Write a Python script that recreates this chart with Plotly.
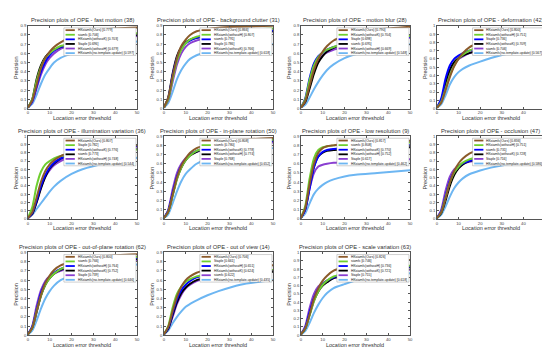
import plotly.graph_objects as go

W, H = 550, 347
THRESHOLDS = [0, 2, 4, 6, 8, 10, 12, 15, 20, 25, 35, 50]
X_TICKS = [0, 10, 20, 30, 40, 50]
RANK_COLORS = ["#8B5A2B", "#6FCF2F", "#0000FF", "#000000", "#8A3FD1", "#6DB6F2"]

TITLES = [
    "Precision plots of OPE - fast motion (38)",
    "Precision plots of OPE - background clutter (31)",
    "Precision plots of OPE - motion blur (28)",
    "Precision plots of OPE - deformation (42)",
    "Precision plots of OPE - illumination variation (36)",
    "Precision plots of OPE - in-plane rotation (50)",
    "Precision plots of OPE - low resolution (9)",
    "Precision plots of OPE - occlusion (47)",
    "Precision plots of OPE - out-of-plane rotation (62)",
    "Precision plots of OPE - out of view (14)",
    "Precision plots of OPE - scale variation (63)",
]
Y_MAX = [0.9, 0.9, 0.9, 1.0, 1.0, 0.9, 0.9, 1.0, 0.9, 0.9, 1.0]

OURS = "HKsiamfc(Ours)"
SF = "siamfc"
WH = "HKsiamfc(withoutH)"
WK = "HKsiamfc(withoutK)"
ST = "Staple"
NT = "HKsiamfc(no-template-update)"

fm_names = [OURS, SF, WK, ST, WH, NT]
fm_scores = [0.779, 0.706, 0.703, 0.696, 0.679, 0.597]
fm_prec = [
    [0.01, 0.09, 0.26, 0.44, 0.55, 0.62, 0.67, 0.72, 0.779, 0.82, 0.86, 0.88],
    [0.01, 0.10, 0.30, 0.45, 0.55, 0.60, 0.64, 0.68, 0.706, 0.74, 0.78, 0.82],
    [0.01, 0.08, 0.24, 0.40, 0.51, 0.58, 0.63, 0.67, 0.703, 0.73, 0.77, 0.81],
    [0.01, 0.10, 0.32, 0.47, 0.56, 0.61, 0.64, 0.67, 0.696, 0.72, 0.76, 0.80],
    [0.01, 0.07, 0.22, 0.37, 0.48, 0.55, 0.60, 0.65, 0.679, 0.71, 0.75, 0.79],
    [0.01, 0.05, 0.15, 0.27, 0.37, 0.44, 0.50, 0.55, 0.597, 0.63, 0.68, 0.73],
]

bc_names = [OURS, WH, SF, ST, WK, NT]
bc_scores = [0.866, 0.807, 0.791, 0.786, 0.766, 0.618]
bc_prec = [
    [0.01, 0.12, 0.35, 0.55, 0.68, 0.75, 0.80, 0.84, 0.866, 0.88, 0.89, 0.90],
    [0.01, 0.10, 0.32, 0.52, 0.64, 0.71, 0.75, 0.78, 0.807, 0.83, 0.85, 0.87],
    [0.01, 0.11, 0.36, 0.55, 0.65, 0.71, 0.74, 0.77, 0.791, 0.81, 0.83, 0.85],
    [0.01, 0.12, 0.38, 0.57, 0.67, 0.72, 0.75, 0.77, 0.786, 0.80, 0.82, 0.84],
    [0.01, 0.09, 0.29, 0.48, 0.60, 0.67, 0.71, 0.74, 0.766, 0.79, 0.82, 0.84],
    [0.01, 0.06, 0.18, 0.32, 0.42, 0.49, 0.54, 0.58, 0.618, 0.64, 0.67, 0.70],
]

mb_names = [OURS, WK, ST, SF, WH, NT]
mb_scores = [0.790, 0.704, 0.698, 0.695, 0.669, 0.548]
mb_prec = [
    [0.01, 0.08, 0.25, 0.42, 0.54, 0.62, 0.68, 0.74, 0.790, 0.83, 0.86, 0.89],
    [0.01, 0.10, 0.31, 0.47, 0.56, 0.61, 0.64, 0.67, 0.704, 0.73, 0.76, 0.79],
    [0.01, 0.11, 0.33, 0.49, 0.57, 0.61, 0.64, 0.67, 0.698, 0.72, 0.75, 0.78],
    [0.01, 0.07, 0.22, 0.38, 0.50, 0.57, 0.62, 0.66, 0.695, 0.72, 0.76, 0.80],
    [0.01, 0.08, 0.26, 0.42, 0.52, 0.58, 0.61, 0.64, 0.669, 0.70, 0.74, 0.77],
    [0.01, 0.04, 0.12, 0.21, 0.29, 0.36, 0.42, 0.48, 0.548, 0.59, 0.65, 0.70],
]

df_names = [OURS, WH, ST, WK, SF, NT]
df_scores = [0.800, 0.751, 0.736, 0.709, 0.706, 0.567]
df_prec = [
    [0.01, 0.07, 0.22, 0.38, 0.51, 0.60, 0.67, 0.74, 0.800, 0.85, 0.91, 0.95],
    [0.01, 0.08, 0.24, 0.40, 0.52, 0.60, 0.65, 0.70, 0.751, 0.79, 0.84, 0.87],
    [0.01, 0.12, 0.36, 0.52, 0.60, 0.64, 0.67, 0.70, 0.736, 0.76, 0.79, 0.81],
    [0.01, 0.10, 0.31, 0.47, 0.56, 0.61, 0.64, 0.67, 0.709, 0.74, 0.78, 0.82],
    [0.01, 0.09, 0.29, 0.45, 0.55, 0.60, 0.63, 0.67, 0.706, 0.74, 0.79, 0.84],
    [0.01, 0.05, 0.16, 0.29, 0.38, 0.44, 0.48, 0.52, 0.567, 0.61, 0.68, 0.76],
]

iv_names = [OURS, ST, WK, SF, WH, NT]
iv_scores = [0.807, 0.782, 0.776, 0.773, 0.748, 0.544]
iv_prec = [
    [0.01, 0.08, 0.26, 0.45, 0.58, 0.66, 0.71, 0.76, 0.807, 0.84, 0.87, 0.89],
    [0.01, 0.14, 0.40, 0.57, 0.66, 0.70, 0.73, 0.76, 0.782, 0.80, 0.82, 0.84],
    [0.01, 0.07, 0.22, 0.40, 0.53, 0.62, 0.68, 0.73, 0.776, 0.81, 0.85, 0.88],
    [0.01, 0.06, 0.20, 0.37, 0.51, 0.61, 0.67, 0.73, 0.773, 0.81, 0.85, 0.88],
    [0.01, 0.06, 0.21, 0.38, 0.51, 0.59, 0.65, 0.70, 0.748, 0.78, 0.82, 0.85],
    [0.01, 0.05, 0.12, 0.19, 0.26, 0.33, 0.39, 0.46, 0.544, 0.60, 0.67, 0.74],
]

ir_names = [OURS, SF, WK, WH, ST, NT]
ir_scores = [0.808, 0.780, 0.778, 0.774, 0.768, 0.652]
ir_prec = [
    [0.01, 0.08, 0.26, 0.45, 0.58, 0.66, 0.72, 0.77, 0.808, 0.83, 0.86, 0.88],
    [0.01, 0.08, 0.25, 0.43, 0.56, 0.64, 0.69, 0.74, 0.780, 0.81, 0.84, 0.86],
    [0.01, 0.09, 0.28, 0.46, 0.58, 0.65, 0.70, 0.74, 0.778, 0.80, 0.83, 0.85],
    [0.01, 0.08, 0.26, 0.44, 0.56, 0.64, 0.69, 0.73, 0.774, 0.80, 0.83, 0.85],
    [0.01, 0.10, 0.32, 0.50, 0.60, 0.66, 0.70, 0.73, 0.768, 0.79, 0.81, 0.83],
    [0.01, 0.05, 0.17, 0.30, 0.41, 0.49, 0.54, 0.60, 0.652, 0.69, 0.73, 0.77],
]

lr_names = [OURS, SF, WK, WH, ST, NT]
lr_scores = [0.817, 0.808, 0.770, 0.752, 0.617, 0.462]
lr_prec = [
    [0.01, 0.12, 0.38, 0.60, 0.72, 0.77, 0.79, 0.80, 0.817, 0.83, 0.84, 0.85],
    [0.01, 0.14, 0.44, 0.66, 0.75, 0.78, 0.79, 0.80, 0.808, 0.81, 0.82, 0.83],
    [0.01, 0.10, 0.33, 0.56, 0.68, 0.73, 0.75, 0.76, 0.770, 0.78, 0.79, 0.80],
    [0.01, 0.11, 0.36, 0.57, 0.68, 0.72, 0.74, 0.75, 0.752, 0.76, 0.77, 0.78],
    [0.01, 0.10, 0.33, 0.50, 0.57, 0.59, 0.60, 0.61, 0.617, 0.62, 0.63, 0.65],
    [0.01, 0.06, 0.17, 0.27, 0.33, 0.37, 0.40, 0.43, 0.462, 0.48, 0.50, 0.53],
]

oc_names = [OURS, WH, SF, WK, ST, NT]
oc_scores = [0.836, 0.751, 0.731, 0.728, 0.716, 0.586]
oc_prec = [
    [0.01, 0.08, 0.25, 0.44, 0.58, 0.67, 0.73, 0.79, 0.836, 0.87, 0.90, 0.92],
    [0.01, 0.08, 0.26, 0.44, 0.56, 0.63, 0.68, 0.72, 0.751, 0.78, 0.82, 0.85],
    [0.01, 0.09, 0.28, 0.46, 0.57, 0.63, 0.67, 0.70, 0.731, 0.76, 0.80, 0.83],
    [0.01, 0.07, 0.22, 0.40, 0.53, 0.61, 0.66, 0.70, 0.728, 0.76, 0.80, 0.83],
    [0.01, 0.11, 0.34, 0.51, 0.60, 0.64, 0.67, 0.69, 0.716, 0.74, 0.77, 0.79],
    [0.01, 0.05, 0.15, 0.27, 0.37, 0.44, 0.49, 0.54, 0.586, 0.62, 0.67, 0.72],
]

op_names = [OURS, SF, WH, WK, ST, NT]
op_scores = [0.800, 0.766, 0.764, 0.752, 0.739, 0.646]
op_prec = [
    [0.01, 0.08, 0.26, 0.44, 0.57, 0.65, 0.71, 0.76, 0.800, 0.83, 0.86, 0.88],
    [0.01, 0.08, 0.26, 0.43, 0.55, 0.62, 0.67, 0.72, 0.766, 0.79, 0.83, 0.85],
    [0.01, 0.09, 0.28, 0.46, 0.57, 0.64, 0.68, 0.72, 0.764, 0.79, 0.82, 0.84],
    [0.01, 0.08, 0.25, 0.43, 0.55, 0.62, 0.67, 0.71, 0.752, 0.78, 0.81, 0.83],
    [0.01, 0.10, 0.32, 0.49, 0.59, 0.64, 0.67, 0.70, 0.739, 0.76, 0.79, 0.81],
    [0.01, 0.05, 0.16, 0.29, 0.40, 0.48, 0.54, 0.60, 0.646, 0.68, 0.73, 0.77],
]

ov_names = [OURS, ST, WH, WK, SF, NT]
ov_scores = [0.706, 0.661, 0.651, 0.624, 0.622, 0.435]
ov_prec = [
    [0.01, 0.09, 0.26, 0.42, 0.53, 0.60, 0.64, 0.68, 0.706, 0.72, 0.74, 0.76],
    [0.01, 0.10, 0.30, 0.45, 0.53, 0.58, 0.61, 0.64, 0.661, 0.67, 0.69, 0.71],
    [0.01, 0.08, 0.24, 0.39, 0.49, 0.55, 0.59, 0.63, 0.651, 0.67, 0.69, 0.71],
    [0.01, 0.07, 0.22, 0.36, 0.46, 0.52, 0.56, 0.60, 0.624, 0.64, 0.67, 0.69],
    [0.01, 0.07, 0.20, 0.34, 0.44, 0.51, 0.55, 0.59, 0.622, 0.64, 0.67, 0.70],
    [0.01, 0.05, 0.13, 0.20, 0.26, 0.31, 0.34, 0.38, 0.435, 0.48, 0.55, 0.60],
]

sv_names = [OURS, SF, WH, WK, ST, NT]
sv_scores = [0.826, 0.746, 0.736, 0.721, 0.715, 0.618]
sv_prec = [
    [0.01, 0.08, 0.25, 0.44, 0.57, 0.66, 0.72, 0.78, 0.826, 0.86, 0.89, 0.91],
    [0.01, 0.08, 0.24, 0.41, 0.53, 0.61, 0.66, 0.71, 0.746, 0.78, 0.82, 0.84],
    [0.01, 0.09, 0.28, 0.45, 0.56, 0.62, 0.66, 0.70, 0.736, 0.76, 0.80, 0.83],
    [0.01, 0.08, 0.25, 0.42, 0.53, 0.60, 0.64, 0.69, 0.721, 0.75, 0.79, 0.82],
    [0.01, 0.11, 0.33, 0.50, 0.59, 0.63, 0.66, 0.69, 0.715, 0.74, 0.77, 0.79],
    [0.01, 0.05, 0.15, 0.27, 0.37, 0.45, 0.51, 0.57, 0.618, 0.66, 0.71, 0.75],
]

PANELS = [
    (fm_names, fm_scores, fm_prec), (bc_names, bc_scores, bc_prec),
    (mb_names, mb_scores, mb_prec), (df_names, df_scores, df_prec),
    (iv_names, iv_scores, iv_prec), (ir_names, ir_scores, ir_prec),
    (lr_names, lr_scores, lr_prec), (oc_names, oc_scores, oc_prec),
    (op_names, op_scores, op_prec), (ov_names, ov_scores, ov_prec),
    (sv_names, sv_scores, sv_prec),
]

# layout (pixel boxes of the axes)
COL_PX = [(19, 129), (156, 266), (294, 404), (431, 540)]
ROW_PX = [(15, 99), (127, 211), (245, 329)]

FONT = "Liberation Sans, Arial, sans-serif"
TITLE_SIZE = 5.8
LABEL_SIZE = 5.5
fig = go.Figure()
layout = dict(width=W, height=H, margin=dict(l=0, r=0, t=0, b=0),
              paper_bgcolor="white", plot_bgcolor="white", showlegend=False,
              font=dict(family=FONT, color="#222"))
shapes, annotations = [], []

LEG_X0, LEG_X1, LEG_TOP, ROW_H = 0.33, 0.99, 0.975, 0.0555

for i, (names, scores, prec) in enumerate(PANELS):
    r, c = divmod(i, 4)
    sfx = "" if i == 0 else str(i + 1)
    xa, ya = "x" + sfx, "y" + sfx
    for k in reversed(range(len(names))):
        fig.add_trace(go.Scatter(
            x=THRESHOLDS, y=prec[k], mode="lines", xaxis=xa, yaxis=ya,
            line=dict(color=RANK_COLORS[k], width=2.0, shape="spline", smoothing=0.7),
            hoverinfo="skip", showlegend=False))
    x0p, x1p = COL_PX[c]
    y0p, y1p = ROW_PX[r]
    ymax = Y_MAX[i]
    yt = [round(v * 0.1, 1) for v in range(int(round(ymax * 10)) + 1)]
    ytt = ["0" if v == 0 else ("1" if v == 1 else f"{v:g}") for v in yt]
    axcommon = dict(showgrid=False, zeroline=False, showline=True, mirror="ticks",
                    linecolor="#555", linewidth=0.6, ticks="inside", ticklen=2,
                    tickwidth=0.5, tickcolor="#555",
                    tickfont=dict(size=4.2, family=FONT, color="#444"))
    layout["xaxis" + sfx] = dict(domain=[x0p / W, x1p / W], range=[0, 50],
                                 anchor=ya, tickvals=X_TICKS, **axcommon)
    layout["yaxis" + sfx] = dict(domain=[1 - y1p / H, 1 - y0p / H], range=[0, ymax],
                                 anchor=xa, tickvals=yt, ticktext=ytt, **axcommon)
    xd, yd = xa + " domain", ya + " domain"
    n = len(names)
    leg_bot = LEG_TOP - n * ROW_H
    shapes.append(dict(type="rect", xref=xd, yref=yd, x0=LEG_X0, x1=LEG_X1,
                       y0=leg_bot, y1=LEG_TOP, fillcolor="white",
                       line=dict(color="#888", width=0.4), layer="above"))
    for k in range(n):
        yc = LEG_TOP - (k + 0.5) * ROW_H
        shapes.append(dict(type="line", xref=xd, yref=yd, x0=LEG_X0 + 0.015,
                           x1=LEG_X0 + 0.1, y0=yc, y1=yc, layer="above",
                           line=dict(color=RANK_COLORS[k], width=1.8)))
        annotations.append(dict(xref=xd, yref=yd, x=LEG_X0 + 0.11, y=yc,
                                xanchor="left", yanchor="middle", showarrow=False,
                                text=f"{names[k]} [{scores[k]:.3f}]",
                                font=dict(size=3.3, family=FONT, color="#111")))
    annotations.append(dict(xref=xd, yref=yd, x=0.5, y=1, yanchor="bottom",
                            yshift=0.5, showarrow=False, text=TITLES[i],
                            font=dict(size=TITLE_SIZE, family=FONT, color="#333")))
    annotations.append(dict(xref=xd, yref=yd, x=0.5, y=0, yanchor="middle",
                            yshift=-9.5, showarrow=False, text="Location error threshold",
                            font=dict(size=LABEL_SIZE, family=FONT, color="#333")))
    annotations.append(dict(xref=xd, yref=yd, x=0, y=0.5, xanchor="center",
                            xshift=-12, showarrow=False, text="Precision",
                            textangle=-90,
                            font=dict(size=LABEL_SIZE, family=FONT, color="#333")))

layout["shapes"] = shapes
layout["annotations"] = annotations
fig.update_layout(**layout)
fig.write_html("out.html")
